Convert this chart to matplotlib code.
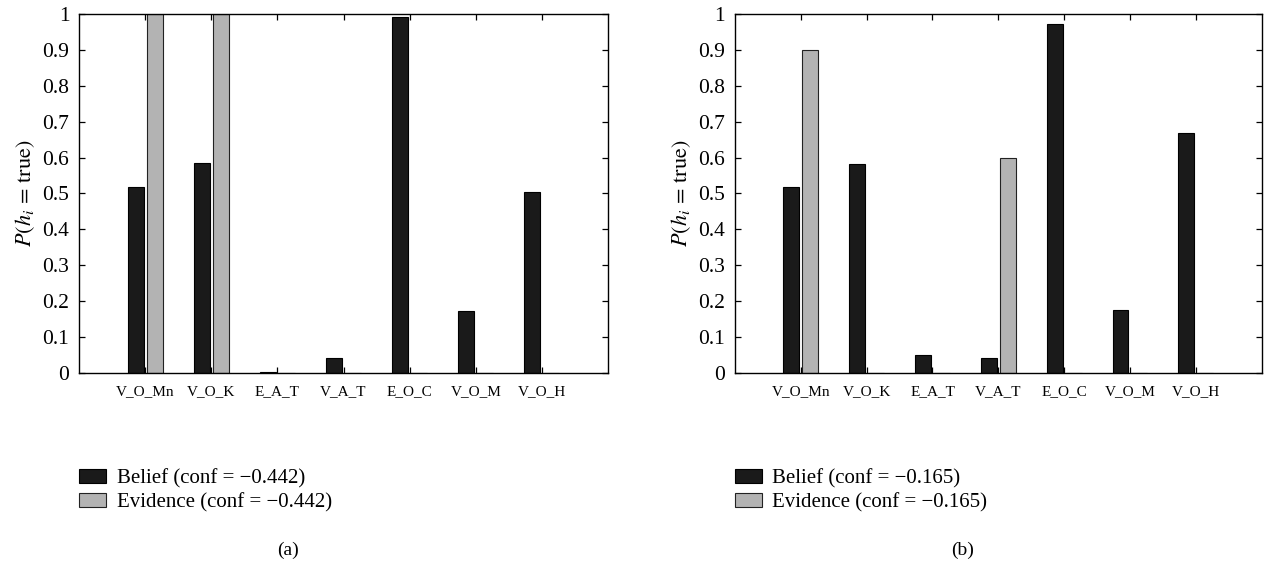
import numpy as np
import matplotlib
matplotlib.use("Agg")
import matplotlib.pyplot as plt

plt.rcParams['font.family'] = ['Liberation Serif', 'DejaVu Serif']
plt.rcParams['mathtext.fontset'] = 'stix'

categories = ["V_O_Mn", "V_O_K", "E_A_T", "V_A_T", "E_O_C", "V_O_M", "V_O_H"]

# panel (a)
belief_a = [0.519, 0.585, 0.004, 0.041, 0.991, 0.173, 0.503]
evidence_a = [1.0, 1.0, 0.0, 0.0, 0.0, 0.0, 0.0]
conf_a = "\u22120.442"

# panel (b)
belief_b = [0.518, 0.583, 0.049, 0.041, 0.973, 0.176, 0.668]
evidence_b = [0.9, 0.0, 0.0, 0.6, 0.0, 0.0, 0.0]
conf_b = "\u22120.165"

BLACK = "#1a1a1a"
GRAY = "#b3b3b3"


def draw_panel(ax, belief, evidence, conf, caption, cap_x, fig):
    x = np.arange(1, len(categories) + 1)
    w = 0.24
    b1 = ax.bar(x - 0.145, belief, w, color=BLACK, edgecolor="black", linewidth=0.8,
                label="Belief (conf = %s)" % conf)
    b2 = ax.bar(x + 0.145, evidence, w, color=GRAY, edgecolor="#222222", linewidth=0.8,
                label="Evidence (conf = %s)" % conf)
    ax.set_xlim(0, 8)
    ax.set_ylim(0, 1)
    ax.set_xticks(x)
    ax.set_xticklabels(categories, fontsize=11)
    ax.set_yticks(np.arange(0, 1.01, 0.1))
    ax.set_yticklabels(["0"] + ["%.1f" % v for v in np.arange(0.1, 0.95, 0.1)] + ["1"],
                       fontsize=15.5)
    ax.tick_params(direction="in", top=True, right=True, length=4, width=0.9)
    ax.tick_params(axis="x", pad=9)
    ax.tick_params(axis="y", pad=7)
    for s in ax.spines.values():
        s.set_linewidth(1.0)
    ax.set_ylabel(r"$P(h_i\,=\,\mathrm{true})$", fontsize=16, labelpad=4)

    pos = ax.get_position()
    ax.legend(handles=[b1, b2], loc="upper left", frameon=False, fontsize=15,
              bbox_to_anchor=(pos.x0, 0.167), bbox_transform=fig.transFigure,
              handlelength=1.3, handleheight=0.62, handletextpad=0.5,
              labelspacing=0.22, borderaxespad=0, borderpad=0)
    fig.text(cap_x, 0.023, caption, fontsize=14, ha="center", va="center")


fig = plt.figure(figsize=(12.65, 5.63), dpi=100)
ax1 = fig.add_axes([0.0625, 0.3375, 0.4182, 0.6377])
ax2 = fig.add_axes([0.581, 0.3375, 0.4164, 0.6377])

draw_panel(ax1, belief_a, evidence_a, conf_a, "(a)", 288 / 1265, fig)
draw_panel(ax2, belief_b, evidence_b, conf_b, "(b)", 963 / 1265, fig)

fig.savefig("out.png", dpi=100)
